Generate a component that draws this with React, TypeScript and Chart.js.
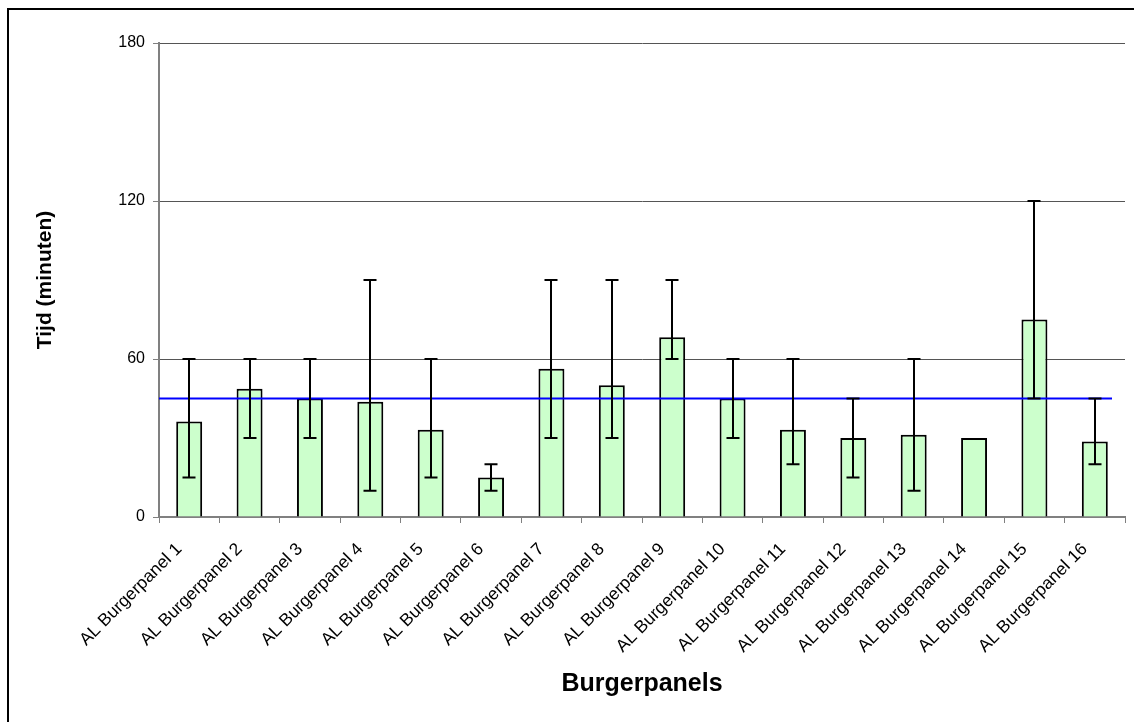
import React, { useEffect, useRef } from "react";
import { Chart, registerables } from "chart.js";

Chart.register(...registerables);

const categories = [
  "AL Burgerpanel 1",
  "AL Burgerpanel 2",
  "AL Burgerpanel 3",
  "AL Burgerpanel 4",
  "AL Burgerpanel 5",
  "AL Burgerpanel 6",
  "AL Burgerpanel 7",
  "AL Burgerpanel 8",
  "AL Burgerpanel 9",
  "AL Burgerpanel 10",
  "AL Burgerpanel 11",
  "AL Burgerpanel 12",
  "AL Burgerpanel 13",
  "AL Burgerpanel 14",
  "AL Burgerpanel 15",
  "AL Burgerpanel 16",
];
const meanValues = [36.3, 48.7, 45, 43.8, 33.1, 15, 56.3, 50, 68.3, 45, 33.1, 30, 31.2, 30, 75, 28.7];
const errLow: (number | null)[] = [15, 30, 30, 10, 15, 10, 30, 30, 60, 30, 20, 15, 10, null, 45, 20];
const errHigh: (number | null)[] = [60, 60, 60, 90, 60, 20, 90, 90, 90, 60, 60, 45, 60, null, 120, 45];
const overallMean = 45;
const yTicks = [0, 60, 120, 180];

const FONT = "Arial, 'Liberation Sans', sans-serif";

const overlayPlugin = {
  id: "overlay",
  afterDatasetsDraw(chart: any) {
    const ctx = chart.ctx;
    const y = chart.scales.y;
    const area = chart.chartArea;
    // overall mean line
    ctx.save();
    ctx.strokeStyle = "#0000FF";
    ctx.lineWidth = 2;
    const yp = y.getPixelForValue(overallMean);
    ctx.beginPath();
    ctx.moveTo(area.left, yp);
    ctx.lineTo(area.right - 13, yp);
    ctx.stroke();
    // error bars
    const meta = chart.getDatasetMeta(0);
    ctx.strokeStyle = "#000000";
    ctx.lineWidth = 2;
    meta.data.forEach((bar: any, i: number) => {
      const lo = errLow[i];
      const hi = errHigh[i];
      if (lo == null || hi == null) return;
      const x = Math.round(bar.x);
      const pl = y.getPixelForValue(lo);
      const ph = y.getPixelForValue(hi);
      const cap = 6.5;
      ctx.beginPath();
      ctx.moveTo(x, pl);
      ctx.lineTo(x, ph);
      ctx.moveTo(x - cap, pl);
      ctx.lineTo(x + cap, pl);
      ctx.moveTo(x - cap, ph);
      ctx.lineTo(x + cap, ph);
      ctx.stroke();
    });
    ctx.restore();
  },
};

export default function App() {
  const ref = useRef<HTMLCanvasElement | null>(null);
  useEffect(() => {
    if (!ref.current) return;
    const chart = new Chart(ref.current, {
      type: "bar",
      data: {
        labels: categories,
        datasets: [
          {
            data: meanValues,
            backgroundColor: "#CCFFCC",
            borderColor: "#000000",
            borderWidth: 2,
            categoryPercentage: 1,
            barPercentage: 0.43,
          },
        ],
      },
      options: {
        animation: false,
        responsive: false,
        devicePixelRatio: 1,
        layout: { padding: { top: 43, right: 9, left: 0, bottom: 0 } },
        plugins: { legend: { display: false }, tooltip: { enabled: false } },
        scales: {
          x: {
            type: "category",
            offset: true,
            grid: {
              display: true,
              drawOnChartArea: false,
              drawTicks: true,
              tickLength: 6,
              offset: true,
              color: "#808080",
            },
            border: { color: "#808080", width: 2 },
            ticks: {
              minRotation: 45,
              maxRotation: 45,
              autoSkip: false,
              color: "#000",
              padding: 16,
              labelOffset: -10,
              font: { family: FONT, size: 17.5 },
            },
            title: {
              display: true,
              text: "Burgerpanels",
              color: "#000",
              font: { family: FONT, size: 25, weight: "bold" },
              padding: { top: 0, bottom: 23 },
            },
            afterFit: (s: any) => {
              s.height = 205;
            },
          },
          y: {
            min: 0,
            max: 180,
            afterBuildTicks: (s: any) => {
              s.ticks = yTicks.map((v) => ({ value: v }));
            },
            grid: { color: "#555555", lineWidth: 1, tickLength: 6, tickColor: "#808080" },
            border: { color: "#808080", width: 2 },
            ticks: {
              color: "#000",
              padding: 8,
              font: { family: FONT, size: 16 },
            },
            title: {
              display: true,
              text: "Tijd (minuten)",
              color: "#000",
              font: { family: FONT, size: 21, weight: "bold" },
              padding: { top: 33, bottom: 0 },
            },
            afterFit: (s: any) => {
              s.width = 159;
            },
          },
        },
      },
      plugins: [overlayPlugin],
    } as any);
    return () => chart.destroy();
  }, []);

  return (
    <div
      style={{
        position: "absolute",
        left: 0,
        top: 0,
        width: 1134,
        height: 722,
        overflow: "hidden",
        background: "#fff",
      }}
    >
      <canvas ref={ref} width={1134} height={722} style={{ display: "block" }} />
      <div
        style={{
          position: "absolute",
          left: 7,
          top: 8,
          width: 1160,
          height: 740,
          border: "2px solid #000",
          pointerEvents: "none",
        }}
      />
    </div>
  );
}
